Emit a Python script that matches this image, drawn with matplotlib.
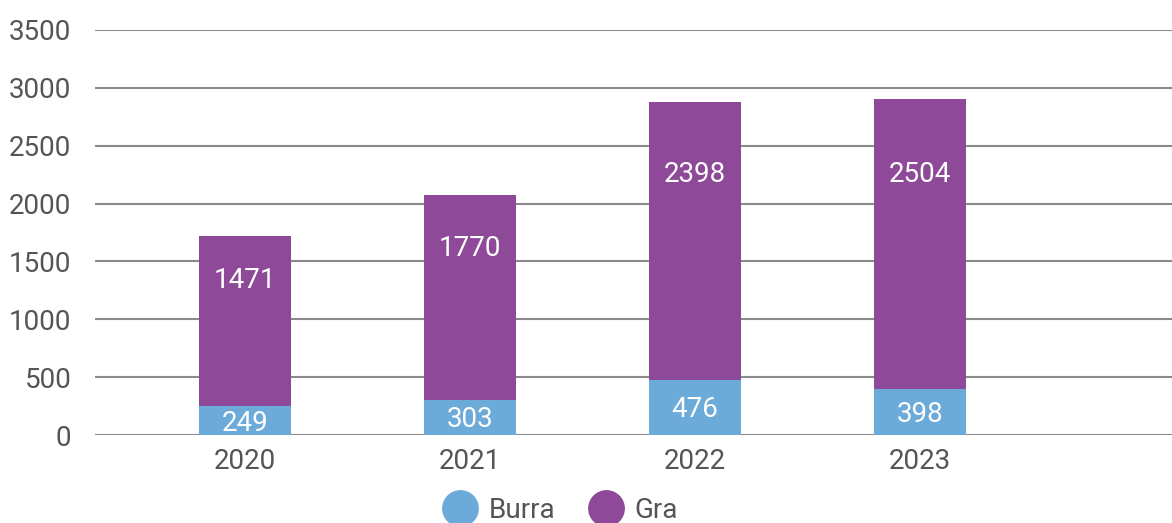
"""Stacked bars: Burra / Gra per year, 2020-2023."""
import matplotlib
matplotlib.use("Agg")
import matplotlib.pyplot as plt
from matplotlib.lines import Line2D
import numpy as np

years = ["2020", "2021", "2022", "2023"]
burra = [249, 303, 476, 398]
gra = [1471, 1770, 2398, 2504]
series_names = ["Burra", "Gra"]

BLUE = "#6CAADA"
PURPLE = "#8E4A98"
GRID = "#8A8A8A"
TEXT = "#555555"
FS = 20
LABEL_FRAC = 0.74   # where inside the Gra segment its label sits

plt.rcParams["font.family"] = ["Roboto", "DejaVu Sans"]
plt.rcParams["font.weight"] = "normal"

fig = plt.figure(figsize=(11.72, 5.23), dpi=100)
ax = fig.add_axes([0.081, 0.168, 0.919, 0.775])

x = np.arange(len(years))
w = 0.41
ax.bar(x, burra, w, color=BLUE, zorder=3)
ax.bar(x, gra, w, bottom=burra, color=PURPLE, zorder=3)

for xi, b, g in zip(x, burra, gra):
    ax.text(xi, b / 2 - 20, str(b), ha="center", va="center", color="white",
            fontsize=FS, zorder=4)
    ax.text(xi, b + g * LABEL_FRAC, str(g), ha="center", va="center",
            color="white", fontsize=FS, zorder=4)

ax.set_ylim(0, 3500)
ax.set_yticks(np.arange(0, 3501, 500))
ax.set_xlim(-0.667, 4.12)
ax.set_xticks(x)
ax.set_xticklabels(years)
ax.yaxis.grid(True, color=GRID, lw=1.5, zorder=0)
ax.tick_params(axis="both", length=0, labelsize=FS, labelcolor=TEXT)
ax.tick_params(axis="y", pad=17)
ax.tick_params(axis="x", pad=9)
for sp in ax.spines.values():
    sp.set_visible(False)

handles = [Line2D([], [], ls="none", marker="o", markersize=25.5,
                  markerfacecolor=c, markeredgecolor=c)
           for c in (BLUE, PURPLE)]
fig.legend(handles, series_names, loc="center",
           bbox_to_anchor=(560 / 1172, 1 - 510 / 523), ncol=2, frameon=False,
           fontsize=FS, labelcolor=TEXT, handlelength=1.26,
           handletextpad=0.4, columnspacing=1.2, borderaxespad=0,
           borderpad=0)

fig.savefig("out.png", dpi=100)
